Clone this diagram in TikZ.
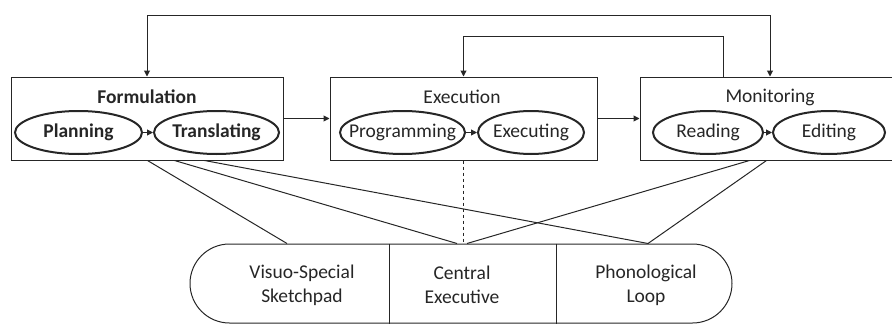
\documentclass[tikz,border=0pt]{standalone}
\usepackage{fontspec}
\setmainfont{Carlito}
\usetikzlibrary{shapes.geometric,shapes.misc,arrows.meta}
\begin{document}
\begin{tikzpicture}[x=1pt,y=-1pt,
  font=\fontsize{19.5}{24}\selectfont,
  color=black!85,
  line width=1pt,
  box/.style={draw, rectangle, minimum height=83, inner sep=0},
  oval/.style={draw, ellipse, line width=2pt, minimum height=43, inner sep=0},
  title/.style={inner sep=0},
  bold/.style={font=\fontsize{19.5}{24}\selectfont\bfseries},
  memtext/.style={inner sep=0, align=center},
  tip/.tip={Triangle[length=6pt,width=6pt]},
  arr/.style={-tip},
  link/.style={line width=1pt}]
\useasboundingbox (0,0) rectangle (892,324);

% process boxes (the last one runs past the right margin)
\node[box, minimum width=272] (form) at (147,118.5) {};
\node[box, minimum width=267] (exec) at (463.5,118.5) {};
\node[box, minimum width=258] (mon)  at (769,118.5) {};

% box titles
\node[title, bold] (ftitle) at (147,97) {Formulation};
\node[title] (etitle) at (462,97) {Execution};
\node[title] (mtitle) at (770,97) {Monitoring};

% sub-processes: the ellipse keeps its set size, the word sits in its centre
\node[oval, minimum width=127, label={[inner sep=0, bold]center:Planning}] (plan)  at (78.5,132.5) {};
\node[oval, minimum width=125, label={[inner sep=0, bold]center:Translating}] (trans) at (216.5,132.5) {};
\node[oval, minimum width=125, label={[inner sep=0]center:Programming}] (prog) at (402.5,132.5) {};
\node[oval, minimum width=106, label={[inner sep=0]center:Executing}] (exe)  at (531,132.5) {};
\node[oval, minimum width=110, label={[inner sep=0]center:Reading}] (read) at (708,132.5) {};
\node[oval, minimum width=112, label={[inner sep=0]center:Editing}] (edit) at (829,132.5) {};

\draw[arr] (plan) -- (trans);
\draw[arr] (prog) -- (exe);
\draw[arr] (read) -- (edit);

% flow between processes
\draw[arr] (form.east) -- (exec.west);
\draw[arr] (exec.east) -- (mon.west);
\draw[tip-tip] (form.north) -- ++(0,-61) -| ([xshift=1pt]mon.north);
\draw[arr] ([xshift=-46pt]mon.north) -- ++(0,-40) -| (exec.north);

% working memory
\node[draw, rounded rectangle, minimum width=542, minimum height=79, inner sep=0] (pill) at (461,283.5) {};
\draw ([xshift=-72pt]pill.north) -- ([xshift=-72pt]pill.south);
\draw ([xshift=95pt]pill.north) -- ([xshift=95pt]pill.south);
\node[memtext] (vs) at (302,285) {Visuo-Special\\Sketchpad};
\node[memtext] (ce) at (462,285) {Central\\Executive};
\node[memtext] (pl) at (646,285) {Phonological\\Loop};

% links to working memory
\coordinate (vsin)  at ([xshift=-174pt]pill.north);
\coordinate (cein1) at ([xshift=-4pt]pill.north);
\coordinate (cein2) at ([xshift=6pt]pill.north);
\coordinate (plin)  at ([xshift=187pt]pill.north);
\draw[link] ([xshift=137pt]form.south west) -- (vsin);
\draw[link] ([xshift=164pt]form.south west) -- (cein1);
\draw[link] ([xshift=194pt]form.south west) -- (plin);
\draw[link, dashed] (exec.south) -- (exec.south |- pill.north);
\draw[link] ([xshift=110pt]mon.south west) -- (cein2);
\draw[link] ([xshift=127pt]mon.south west) -- (plin);
\end{tikzpicture}
\end{document}
